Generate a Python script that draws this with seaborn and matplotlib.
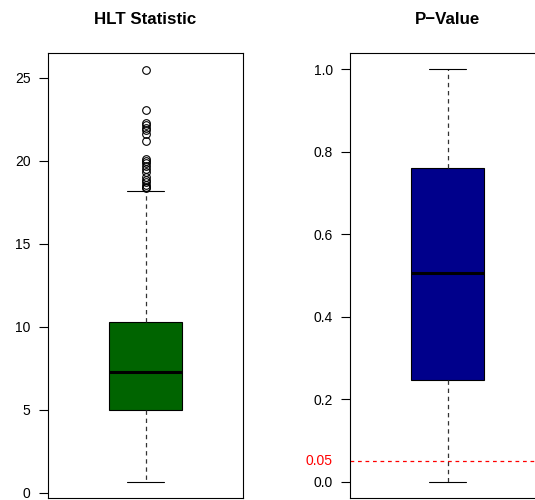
import numpy as np
import pandas as pd
import matplotlib
matplotlib.use("Agg")
import matplotlib.pyplot as plt
import seaborn as sns

# Piecioliczbowe podsumowanie + punkty odstajace
hlt_summary = [0.66, 4.95, 7.25, 10.26, 18.2]   # min, Q1, mediana, Q3, wasy
hlt_outliers = [25.5, 23.05, 22.3, 22.15, 22.0, 21.85, 21.6, 21.2,
                20.1, 20.0, 19.85, 19.7, 19.5, 19.3, 19.05, 18.85,
                18.7, 18.55, 18.45, 18.35]
pval_summary = [0.0, 0.246, 0.505, 0.760, 1.0]
summary_counts = [1, 40, 40, 40, 1]
p_threshold = 0.05
p_ticks = [0.0, 0.2, 0.4, 0.6, 0.8, 1.0]
hlt_ticks = [0, 5, 10, 15, 20, 25]

# Proba odtwarzajaca te same kwartyle
hlt = np.concatenate([np.repeat(hlt_summary, summary_counts), hlt_outliers])
pval = np.repeat(pval_summary, summary_counts)
df_hlt = pd.DataFrame({"HLT": hlt})
df_p = pd.DataFrame({"p": pval})

sns.set_theme(style="white")
plt.rcParams["font.family"] = ["Liberation Sans", "DejaVu Sans"]
plt.rcParams["text.color"] = "black"

fig = plt.figure(figsize=(5.35, 5.0), dpi=100)
ax1 = fig.add_axes([48 / 535, 2 / 500, 195 / 535, 445 / 500])
ax2 = fig.add_axes([350 / 535, 2 / 500, 195 / 535, 445 / 500])

def draw_box(ax, df, col, color, title, ylim, ticks, labels):
    sns.boxplot(data=df, y=col, ax=ax, color=color, saturation=1, width=0.4,
                linecolor="black", linewidth=0.8,
                whiskerprops=dict(linestyle=(0, (3.5, 3)), color="#333333", linewidth=0.9),
                capprops=dict(color="black", linewidth=0.8),
                medianprops=dict(color="black", linewidth=2.2),
                flierprops=dict(marker="o", markerfacecolor="none",
                                markeredgecolor="black", markersize=5.5,
                                markeredgewidth=0.8))
    ax.set_xlim(-0.54, 0.54)
    ax.set_ylim(*ylim)
    ax.set_xticks([])
    ax.set_yticks(ticks)
    ax.set_yticklabels(labels)
    ax.set_xlabel("")
    ax.set_ylabel("")
    ax.tick_params(axis="y", left=True, length=6.5, width=0.8, pad=6,
                   labelsize=10, colors="black")
    for s in ax.spines.values():
        s.set_color("black")
        s.set_linewidth(0.8)
    ax.set_title(title, fontsize=12.2, fontweight="bold", pad=21, color="black")

draw_box(ax1, df_hlt, "HLT", "darkgreen", "HLT Statistic", (-0.33, 26.5),
         hlt_ticks, [str(t) for t in hlt_ticks])
draw_box(ax2, df_p, "p", "darkblue", "P\u2212Value", (-0.04, 1.04),
         p_ticks, [f"{t:.1f}" for t in p_ticks])

# Linia progu istotnosci
ax2.axhline(p_threshold, color="red", linestyle=(0, (3, 3)), linewidth=0.9)
ax2.annotate("0.05", xy=(0, p_threshold), xycoords=ax2.get_yaxis_transform(),
             xytext=(-12.5, 0), textcoords="offset points",
             ha="right", va="center", color="red", fontsize=10)

fig.savefig("out.png", dpi=100)
